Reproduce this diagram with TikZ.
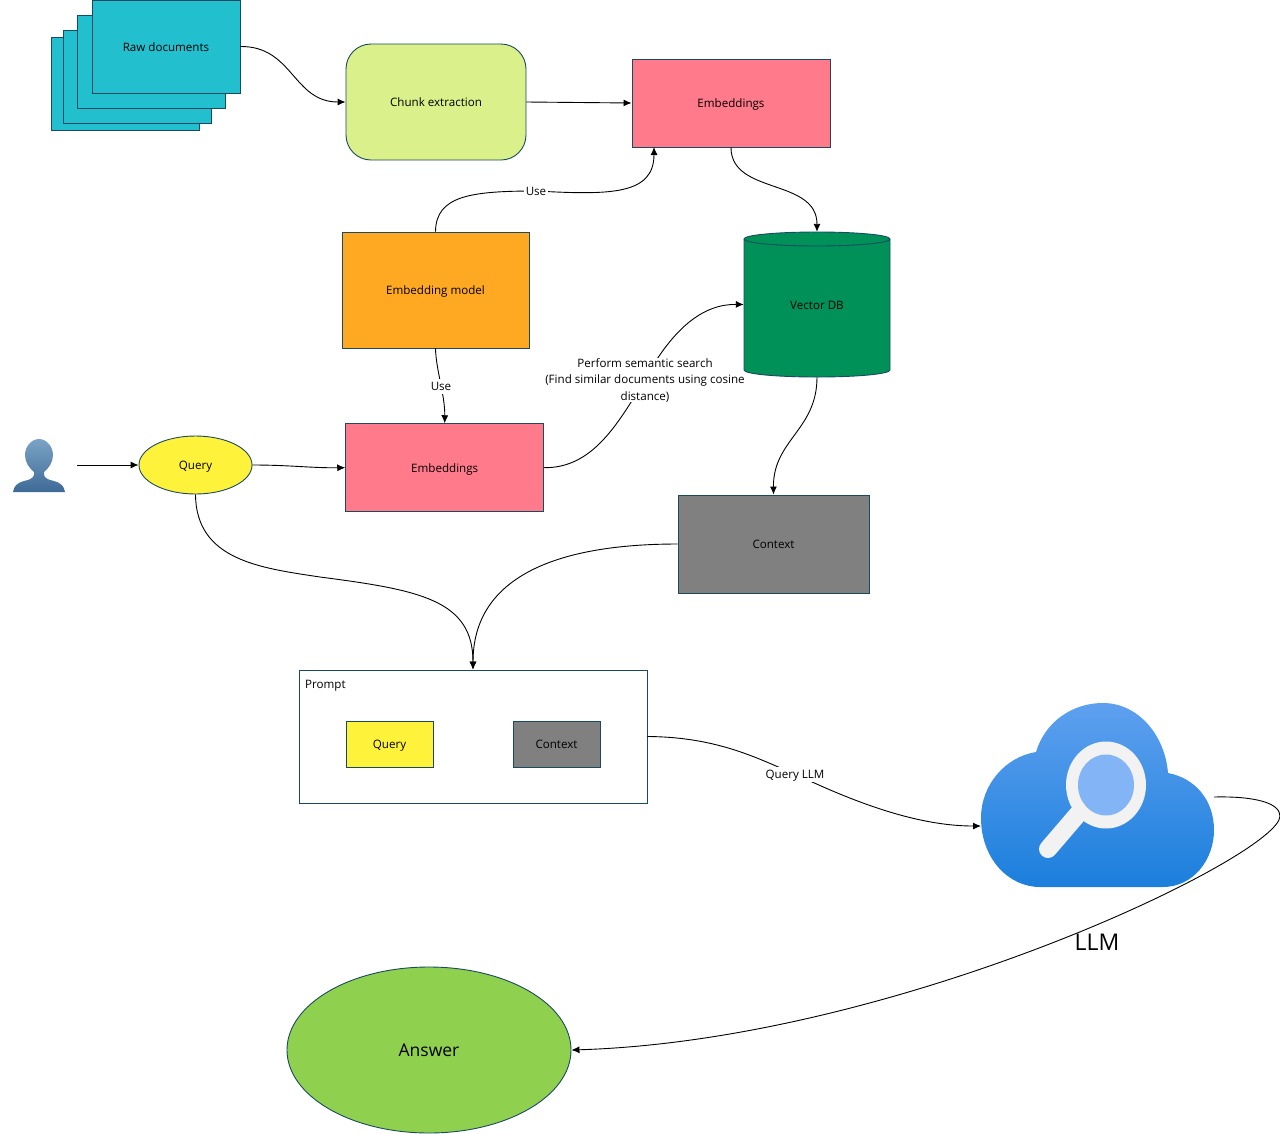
\documentclass[tikz,border=0pt]{standalone}
\usepackage{fontspec}
\setmainfont{Open Sans}
\usetikzlibrary{positioning}
\usetikzlibrary{shapes.geometric}
\usetikzlibrary{arrows.meta}
\definecolor{Raw-1}{RGB}{34,192,207}
\definecolor{Chunk-1}{RGB}{218,240,138}
\definecolor{Emb-1}{RGB}{255,122,138}
\definecolor{Model-1}{RGB}{255,169,34}
\definecolor{Db-1}{RGB}{0,145,89}
\definecolor{Query-1}{RGB}{255,242,58}
\definecolor{Answer-1}{RGB}{143,209,79}
\definecolor{Edge-1}{RGB}{26,74,96}

\begin{document}
\begin{tikzpicture}[x=1pt, y=-1pt]
    \tikzset{ txt/.style={text=black, font=\fontsize{11.6}{16.5}\selectfont, inner sep=0pt} }
    \tikzset{ lbl/.style={txt, text height=9pt, text depth=0pt} }
    \tikzset{ box/.style={lbl, draw=Edge-1, line width=0.9pt, align=center} }
    \tikzset{ raw/.style={box, fill=Raw-1, minimum width=148pt, minimum height=93pt} }
    \tikzset{ emb/.style={box, fill=Emb-1, minimum width=198pt, minimum height=88pt} }
    \tikzset{ part/.style={box, minimum width=87pt, minimum height=46pt} }
    \tikzset{ tag/.style={lbl, fill=white, inner xsep=2pt, inner ysep=3pt} }
    \tikzset{ flow/.style={->, >={Latex[length=8pt,width=7pt]}, line width=0.9pt, black} }

    \useasboundingbox (0,0) rectangle (1280,1133);

    \node[raw]                                                  (raw4)   at (125.5, 83.5) {};
    \node[raw]                                                  (raw3)   at (137.0, 76.5) {};
    \node[raw]                                                  (raw2)   at (151.5, 61.5) {};
    \node[raw]                                                  (raw1)   at (166.0, 46.5) {Raw documents};
    \node[box, fill=Chunk-1, rounded corners=25pt, minimum width=180pt, minimum height=116pt] (chunk) at (436.0, 102.0) {Chunk extraction};
    \node[emb]                                                  (emb1)   at (731.0, 103.0) {Embeddings};
    \node[box, fill=Model-1, minimum width=187pt, minimum height=116pt] (model) at (435.5, 290.0) {Embedding model};
    \node[lbl, minimum width=146pt, minimum height=145pt]       (db)     at (817.0, 304.5) {};
    \node[box, fill=Query-1, ellipse, minimum width=113pt, minimum height=58pt] (query) at (195.5, 465.0) {Query};
    \node[emb]                                                  (emb2)   at (444.7, 467.7) {Embeddings};
    \node[box, fill=gray, minimum width=191pt, minimum height=98pt] (context) at (773.5, 544.0) {Context};
    \node[box, fill=white, minimum width=348pt, minimum height=133pt] (prompt) at (473.0, 736.5) {};
    \node[lbl, anchor=west]                                     (prompttext) at (305.0, 684.0) {Prompt};
    \node[part, fill=Query-1]                                   (pquery) at (389.5, 744.0) {Query};
    \node[part, fill=gray]                                      (pcontext) at (556.5, 744.0) {Context};
    \node[box, fill=Answer-1, ellipse, minimum width=284pt, minimum height=166pt, font=\fontsize{17.5}{22}\selectfont, text height=13pt] (answer) at (429.0, 1050.0) {Answer};
    \node[lbl, font=\fontsize{23}{28}\selectfont, text height=17pt] (llm) at (1097.0, 942.0) {LLM};

    % user icon
    \shade[top color={rgb,255:red,124;green,163;blue,198}, bottom color={rgb,255:red,61;green,106;blue,150}]
        (13,492) .. controls (14,486) and (17,483) .. (24,481) .. controls (28,480) and (33,479) .. (34,475) -- (34,472)
        .. controls (29,468) and (25,462) .. (25,455) .. controls (25,447) and (31,439) .. (39,439)
        .. controls (47,439) and (53,447) .. (53,455) .. controls (53,462) and (49,468) .. (44,472) -- (44,475)
        .. controls (45,479) and (50,480) .. (54,481) .. controls (61,483) and (64,486) .. (65,492) -- cycle;
    \coordinate (user) at (77,465);

    % cloud icon
    \shade[top color={rgb,255:red,94;green,160;blue,239}, bottom color={rgb,255:red,27;green,127;blue,220}]
        (1040,887) -- (1163,887) .. controls (1193,887) and (1214,860) .. (1214,830)
        .. controls (1214,800) and (1195,778) .. (1168,773) .. controls (1165,735) and (1138,703) .. (1103,703)
        .. controls (1072,703) and (1045,722) .. (1036,752) .. controls (1005,757) and (981,785) .. (981,818)
        .. controls (981,858) and (1008,887) .. (1040,887) -- cycle;
    \draw[line width=18pt, line cap=round, black!5] (1048,849) -- (1078,814);
    \fill[black!5] (1106,785) ellipse [x radius=40, y radius=43.5];
    \fill[fill={rgb,255:red,131;green,180;blue,246}] (1106,785) ellipse [x radius=28, y radius=30.5];
    \coordinate (cloudin)  at (981,826);
    \coordinate (cloudout) at (1214,797);
    \coordinate (emb1in)   at (654,147);

    \draw[flow] (raw1.east)    .. controls (293,46) and (293,102) .. (chunk.west);
    \draw[flow] (chunk.east)   -- (emb1.west);
    \draw[flow] (model.north)  .. controls (436,196) and (470,191) .. (536,191) .. controls (610,195) and (654,195) .. (emb1in);
    \draw[flow] (emb1.south)   .. controls (731,195) and (817,178) .. (db.north);
    \draw[flow] (model.south)  .. controls (436,370) and (445,395) .. (emb2.north);
    \draw[flow] (user)         -- (query.west);
    \draw[flow] (query.east)   .. controls (290,465) and (310,468) .. (emb2.west);
    \draw[flow] (emb2.east)    .. controls (590,468) and (615,430) .. (645,379) .. controls (675,325) and (705,304) .. (db.west);
    \draw[flow] (db.south)     .. controls (817,430) and (773,440) .. (context.north);
    \draw[flow] (query.south)  .. controls (196,560) and (260,568) .. (320,577) .. controls (420,590) and (473,600) .. (prompt.north);
    \draw[flow] (context.west) .. controls (560,544) and (473,575) .. (prompt.north);
    \draw[flow] (prompt.east)  .. controls (720,737) and (760,760) .. (795,774) .. controls (860,805) and (920,826) .. (cloudin);
    \draw[flow] (cloudout)     .. controls (1255,796) and (1280,803) .. (1280,816) .. controls (1280,855) and (900,1040) .. (answer.east);

    \node[tag] (use1)  at (536.0, 191.0) {Use};
    \node[tag] (use2)  at (441.0, 386.0) {Use};
    \node[txt, fill=white, align=center] (search) at (645.0, 380.0) {Perform semantic search\\(Find similar documents using cosine\\distance)};
    \node[tag] (askllm) at (795.0, 774.0) {Query LLM};

    % vector db
    \draw[draw=Edge-1, line width=0.9pt, fill=Db-1]
        (744,239) -- (744,370) .. controls (744,374) and (777,377) .. (817,377) .. controls (857,377) and (890,374) .. (890,370)
        -- (890,239) .. controls (890,235) and (857,232) .. (817,232) .. controls (777,232) and (744,235) .. (744,239) -- cycle;
    \draw[draw=Edge-1, line width=0.9pt]
        (744,239) .. controls (744,243) and (777,246) .. (817,246) .. controls (857,246) and (890,243) .. (890,239);
    \node[lbl] (dbtext) at (db.center) {Vector DB};
\end{tikzpicture}
\end{document}
